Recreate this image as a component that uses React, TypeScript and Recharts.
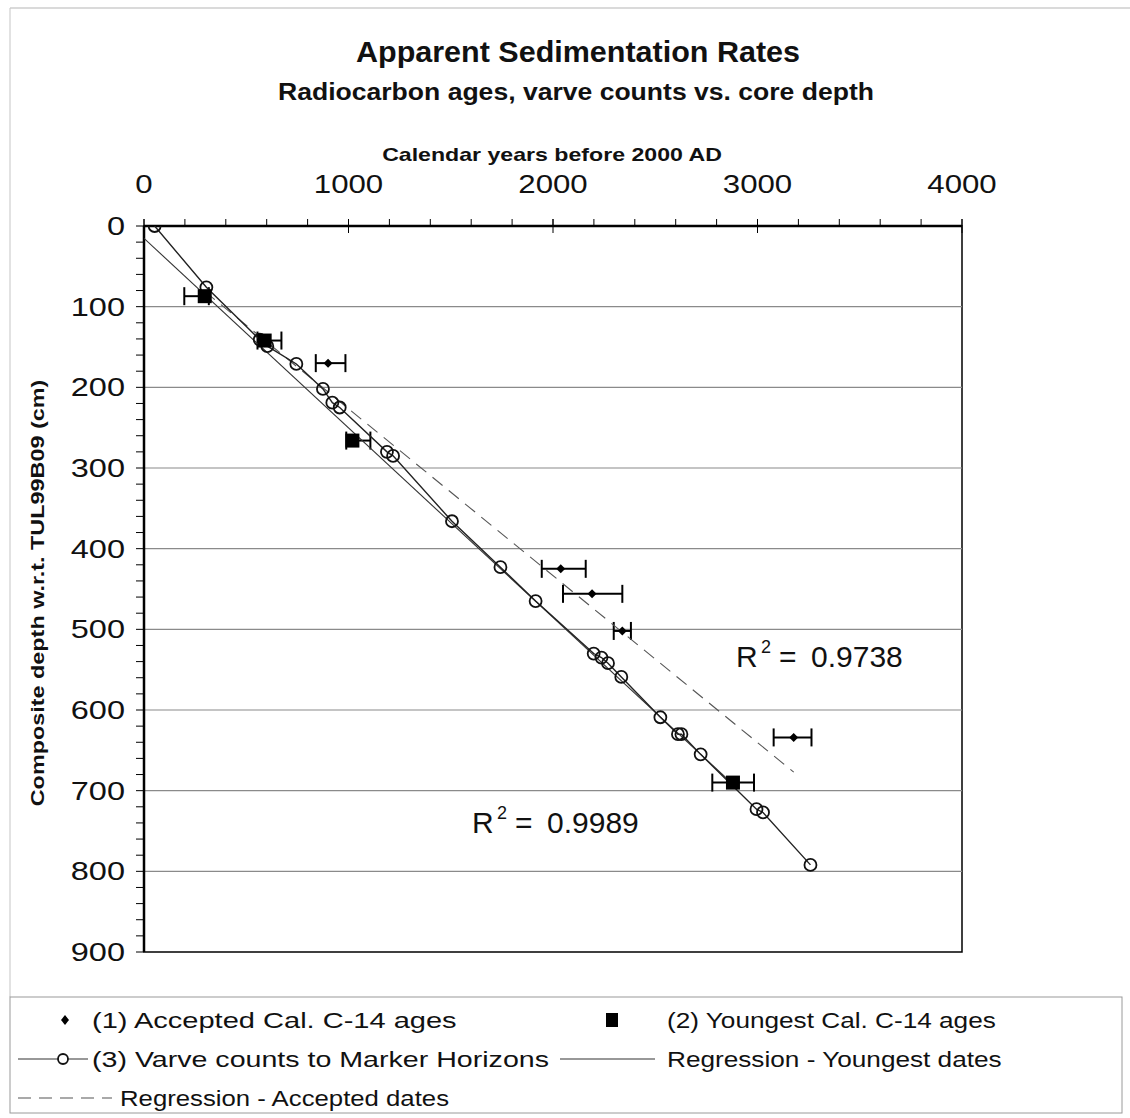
import React from 'react';
import {
  ScatterChart,
  Scatter,
  XAxis,
  YAxis,
  ErrorBar,
  ReferenceLine,
  ReferenceArea,
} from 'recharts';

// ---- tick definitions ----
const xTicks = [0, 200, 400, 600, 800, 1000, 1200, 1400, 1600, 1800, 2000, 2200, 2400, 2600, 2800, 3000, 3200, 3400, 3600, 3800, 4000];
const yTicks = [0, 20, 40, 60, 80, 100, 120, 140, 160, 180, 200, 220, 240, 260, 280, 300, 320, 340, 360, 380, 400, 420, 440, 460, 480, 500, 520, 540, 560, 580, 600, 620, 640, 660, 680, 700, 720, 740, 760, 780, 800, 820, 840, 860, 880, 900];
const gridDepths = [100, 200, 300, 400, 500, 600, 700, 800];

// ---- (3) Varve counts to marker horizons ----
const varveYears = [52, 305, 566, 603, 745, 875, 921, 957, 1188, 1218, 1506, 1743, 1915, 2199, 2237, 2269, 2334, 2525, 2611, 2628, 2722, 2995, 3027, 3259];
const varveDepths = [0, 76, 141, 149, 171, 202, 219, 225, 280, 285, 366, 423, 465, 530, 535, 542, 559, 609, 630, 630, 655, 723, 727, 792];

// ---- (1) Accepted Cal. C-14 ages ----
const acceptedYears = [900, 2038, 2191, 2339, 3177];
const acceptedDepths = [170, 425, 456, 502, 634];
const acceptedErrLow = [60, 93, 142, 42, 98];
const acceptedErrHigh = [85, 122, 148, 42, 87];

// ---- (2) Youngest Cal. C-14 ages ----
const youngestYears = [297, 590, 1019, 2880];
const youngestDepths = [87, 142, 266, 690];
const youngestErrLow = [100, 35, 30, 101];
const youngestErrHigh = [20, 82, 88, 103];

// ---- regression lines (end points) ----
const regYoungestYears = [0, 2880];
const regYoungestDepths = [15.3, 692];
const regAcceptedYears = [297, 3177];
const regAcceptedDepths = [81, 677];

const varveData = varveYears.map((x, i) => ({ x, y: varveDepths[i] }));
const acceptedData = acceptedYears.map((x, i) => ({ x, y: acceptedDepths[i], err: [acceptedErrLow[i], acceptedErrHigh[i]] }));
const youngestData = youngestYears.map((x, i) => ({ x, y: youngestDepths[i], err: [youngestErrLow[i], youngestErrHigh[i]] }));
const regYoungestData = regYoungestYears.map((x, i) => ({ x, y: regYoungestDepths[i] }));
const regAcceptedData = regAcceptedYears.map((x, i) => ({ x, y: regAcceptedDepths[i] }));

const FONT = '"Liberation Sans", Arial, Helvetica, sans-serif';

const CircleShape = (props: any) => (
  <circle cx={props.cx} cy={props.cy} r={6} fill="none" stroke="#111" strokeWidth={1.8} />
);
const SquareShape = (props: any) => (
  <rect x={props.cx - 7} y={props.cy - 7} width={14} height={14} fill="#000" />
);
const DiamondShape = (props: any) => (
  <polygon
    points={`${props.cx},${props.cy - 4.5} ${props.cx + 4.5},${props.cy} ${props.cx},${props.cy + 4.5} ${props.cx - 4.5},${props.cy}`}
    fill="#000"
  />
);
const NoShape = () => <g />;

const XTick = (props: any) => {
  const { x, y, payload } = props;
  const major = payload.value % 1000 === 0;
  return (
    <g>
      {major && <line x1={x} y1={y + 26} x2={x} y2={y + 40} stroke="#000" strokeWidth={1} />}
      {major && (
        <text
          transform={`translate(${x},${y}) scale(1.2,1)`}
          textAnchor="middle"
          fontSize={26}
          fontFamily={FONT}
          fill="#111"
        >
          {payload.value}
        </text>
      )}
    </g>
  );
};

const YTick = (props: any) => {
  const { x, y, payload } = props;
  if (payload.value % 100 !== 0) return <g />;
  return (
    <text
      transform={`translate(${x},${y + 9}) scale(1.3,1)`}
      textAnchor="end"
      fontSize={25}
      fontFamily={FONT}
      fill="#111"
    >
      {payload.value}
    </text>
  );
};

const T = ({ x, y, sx = 1, size, bold, anchor = 'start', children, rotate }: any) => (
  <text
    transform={`translate(${x},${y})${rotate ? ` rotate(${rotate})` : ''} scale(${sx},1)`}
    textAnchor={anchor}
    fontSize={size}
    fontWeight={bold ? 'bold' : 'normal'}
    fontFamily={FONT}
    fill="#111"
  >
    {children}
  </text>
);

const R2 = ({ x, y, value }: any) => (
  <g>
    <text x={x} y={y} fontSize={30} fontFamily={FONT} fill="#111">R</text>
    <text x={x + 25} y={y - 14} fontSize={18} fontFamily={FONT} fill="#111">2</text>
    <text x={x + 43} y={y} fontSize={30} fontFamily={FONT} fill="#111">=</text>
    <text x={x + 75} y={y} fontSize={30} fontFamily={FONT} fill="#111">{value}</text>
  </g>
);

export default function App() {
  return (
    <div style={{ position: 'absolute', left: 0, top: 0, width: 1130, height: 1118, background: '#fff' }}>
      <ScatterChart
        width={1130}
        height={1118}
        margin={{ top: 166, left: 44, right: 168, bottom: 166 }}
      >
        {gridDepths.map((d) => (
          <ReferenceLine key={d} y={d} stroke="#8a8a8a" strokeWidth={1.2} />
        ))}
        <ReferenceArea x1={0} x2={4000} y1={0} y2={900} fill="none" fillOpacity={0} stroke="#000" strokeWidth={1.5} />
        <XAxis
          type="number"
          dataKey="x"
          orientation="top"
          domain={[0, 4000]}
          ticks={xTicks}
          interval={0}
          tick={<XTick />}
          tickSize={7}
          tickMargin={26}
          height={60}
          axisLine={{ stroke: '#000', strokeWidth: 2.5 }}
          tickLine={{ stroke: '#000', strokeWidth: 1 }}
          allowDataOverflow
        />
        <YAxis
          type="number"
          dataKey="y"
          domain={[0, 900]}
          reversed
          ticks={yTicks}
          interval={0}
          tick={<YTick />}
          tickSize={8}
          tickMargin={11}
          width={100}
          axisLine={{ stroke: '#000', strokeWidth: 2.5 }}
          tickLine={{ stroke: '#000', strokeWidth: 1 }}
          allowDataOverflow
        />
        <Scatter
          data={regYoungestData}
          line={{ stroke: '#333', strokeWidth: 1.1 }}
          shape={<NoShape />}
          isAnimationActive={false}
        />
        <Scatter
          data={regAcceptedData}
          line={{ stroke: '#555', strokeWidth: 1.1, strokeDasharray: '13 8' }}
          shape={<NoShape />}
          isAnimationActive={false}
        />
        <Scatter
          data={varveData}
          line={{ stroke: '#222', strokeWidth: 1.4 }}
          lineType="joint"
          shape={<CircleShape />}
          isAnimationActive={false}
        />
        <Scatter data={youngestData} shape={<SquareShape />} isAnimationActive={false}>
          <ErrorBar dataKey="err" direction="x" width={9} stroke="#000" strokeWidth={2} />
        </Scatter>
        <Scatter data={acceptedData} shape={<DiamondShape />} isAnimationActive={false}>
          <ErrorBar dataKey="err" direction="x" width={9} stroke="#000" strokeWidth={2} />
        </Scatter>
      </ScatterChart>

      <svg
        width={1130}
        height={1118}
        style={{ position: 'absolute', left: 0, top: 0, pointerEvents: 'none' }}
      >
        {/* outer figure frame */}
        <line x1={10} y1={8} x2={1130} y2={8} stroke="#b5b5b5" strokeWidth={1} />
        <line x1={10} y1={8} x2={10} y2={997} stroke="#c5c5c5" strokeWidth={1} />

        {/* titles */}
        <T x={578} y={62} size={29.5} bold sx={1.034} anchor="middle">Apparent Sedimentation Rates</T>
        <T x={576} y={100} size={23.5} bold sx={1.13} anchor="middle">Radiocarbon ages, varve counts vs. core depth</T>
        <T x={552} y={161} size={18.5} bold sx={1.25} anchor="middle">Calendar years before 2000 AD</T>
        <T x={44} y={593} size={18} bold sx={1.3} anchor="middle" rotate={-90}>Composite depth w.r.t. TUL99B09 (cm)</T>

        {/* R-squared annotations */}
        <R2 x={736} y={667} value="0.9738" />
        <R2 x={472} y={833} value="0.9989" />

        {/* legend */}
        <rect x={10} y={997} width={1112} height={116} fill="none" stroke="#9a9a9a" strokeWidth={1} />
        <polygon points="65,1015 69,1020 65,1025 61,1020" fill="#000" />
        <T x={92} y={1028} size={22} sx={1.32}>(1) Accepted Cal. C-14 ages</T>
        <rect x={606} y={1013} width={12} height={14} fill="#000" />
        <T x={667} y={1028} size={22} sx={1.19}>(2) Youngest Cal. C-14 ages</T>

        <line x1={18} y1={1059} x2={88} y2={1059} stroke="#333" strokeWidth={1.2} />
        <circle cx={63} cy={1059} r={5} fill="#fff" stroke="#111" strokeWidth={1.8} />
        <T x={92} y={1067} size={22} sx={1.3}>(3) Varve counts to Marker Horizons</T>
        <line x1={560} y1={1059} x2={655} y2={1059} stroke="#333" strokeWidth={1.2} />
        <T x={667} y={1067} size={22} sx={1.19}>Regression - Youngest dates</T>

        <line x1={18} y1={1098} x2={112} y2={1098} stroke="#555" strokeWidth={1.2} strokeDasharray="13 8" />
        <T x={120} y={1106} size={22} sx={1.17}>Regression - Accepted dates</T>
      </svg>
    </div>
  );
}
